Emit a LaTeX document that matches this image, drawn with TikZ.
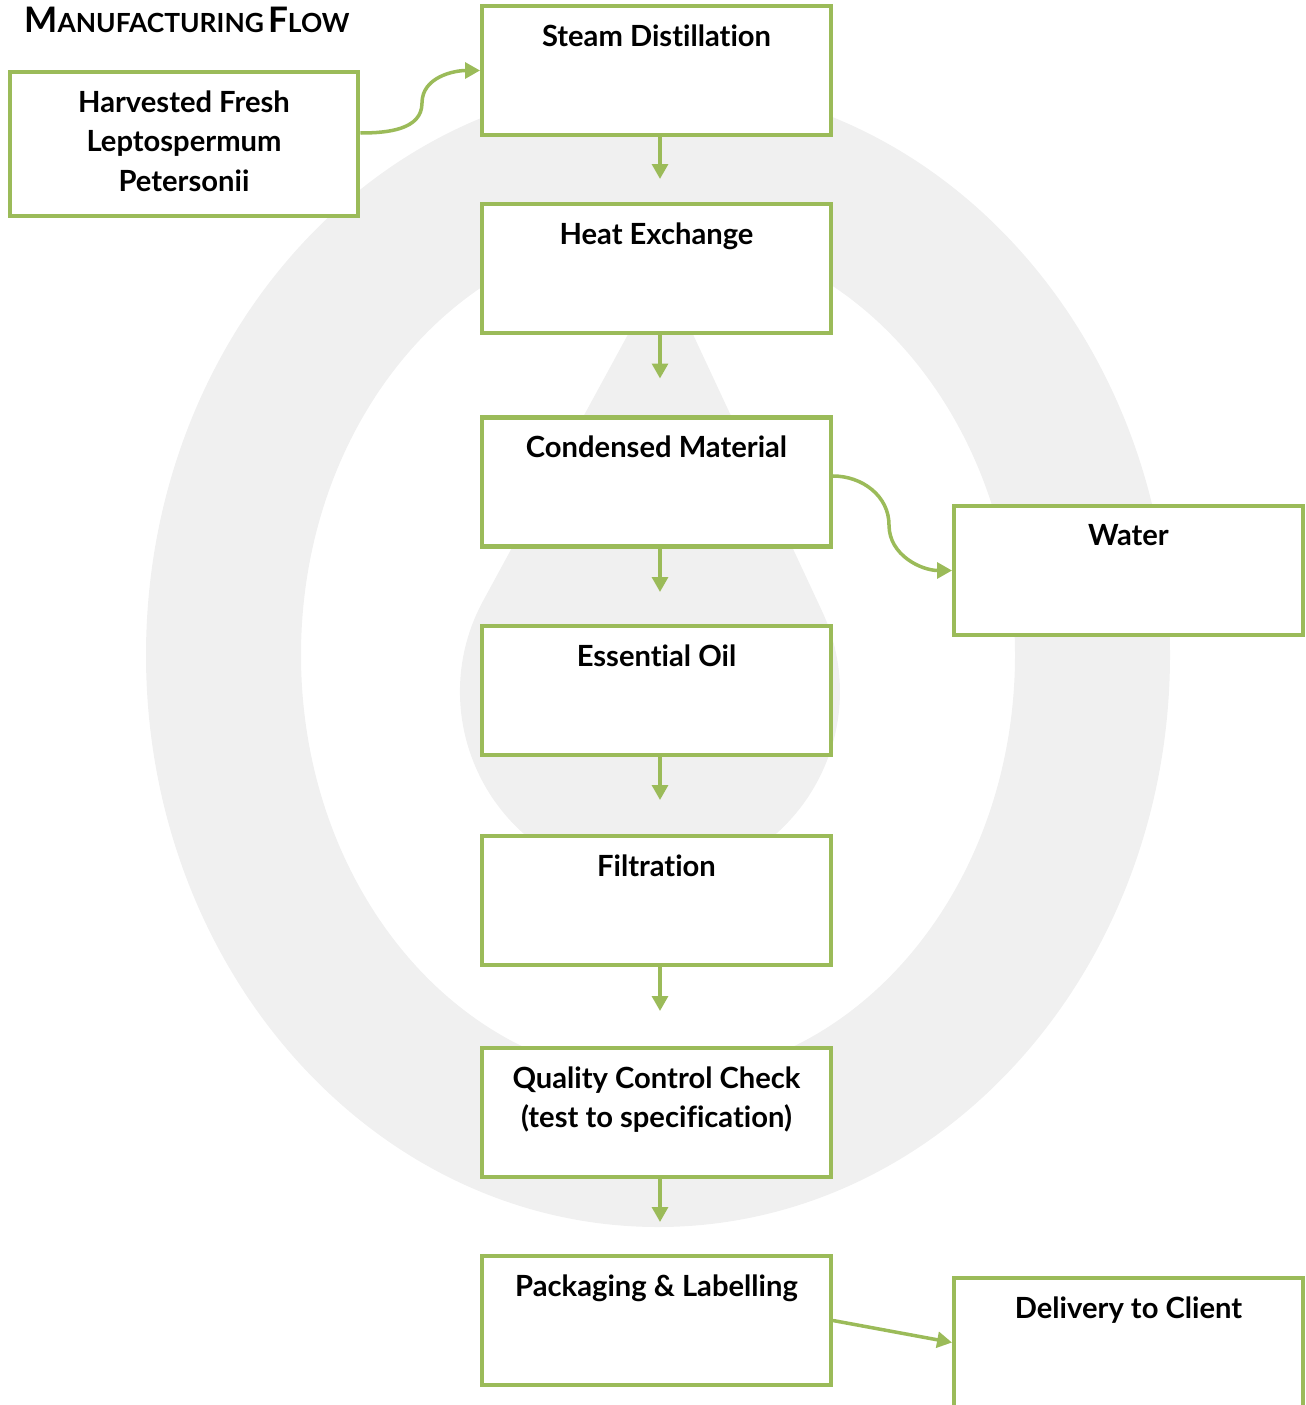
\documentclass[tikz,border=0pt]{standalone}
\usepackage{fontspec}
\setmainfont{Lato}[Ligatures=CommonOff]
\usetikzlibrary{positioning, arrows.meta}

\definecolor{boxgreen}{HTML}{9BBB59}
\definecolor{ringgray}{HTML}{F0F0F0}

\begin{document}
\begin{tikzpicture}[x=0.02cm, y=-0.02cm,
  stepbox/.style={draw=boxgreen, line width=2.3pt, fill=white, minimum width=6.98cm, minimum height=2.58cm, inner sep=0pt},
  boxtext/.style={anchor=north, inner sep=0pt, yshift=-0.4cm, align=center, font=\fontsize{16.6}{22.7}\selectfont\bfseries},
  flow/.style={draw=boxgreen, line width=2pt, -{Triangle[length=8.5pt, width=9pt]}}]
  \useasboundingbox (0,0) rectangle (1305,1405);

  % background ring and drop
  \fill[ringgray, even odd rule] (658,655) ellipse [x radius=512, y radius=572]
                                 (658,655) ellipse [x radius=357, y radius=423];
  \fill[ringgray] (663,270) -- (483,601) arc [start angle=208.5, end angle=-24.9, radius=190] -- cycle;

  \node[anchor=base west, inner sep=0pt, font=\bfseries] (title) at (24,33)
    {{\fontsize{20}{20}\selectfont M}{\fontsize{15}{15}\selectfont ANUFACTURING} {\fontsize{20}{20}\selectfont F}{\fontsize{15}{15}\selectfont LOW}};

  \node[stepbox, minimum height=2.88cm, label={[boxtext]north:{Harvested Fresh\\Leptospermum\\Petersonii}}] (harv) at (184,144) {};
  \node[stepbox, label={[boxtext]north:Steam Distillation}] (steam) at (656.5,70.5) {};
  \node[stepbox, label={[boxtext]north:Heat Exchange}] (heat) at (656.5,268.5) {};
  \node[stepbox, label={[boxtext]north:Condensed Material}] (cond) at (656.5,482) {};
  \node[stepbox, label={[boxtext]north:Essential Oil}] (oil) at (656.5,690.5) {};
  \node[stepbox, label={[boxtext]north:Filtration}] (filt) at (656.5,900.5) {};
  \node[stepbox, label={[boxtext]north:{Quality Control Check\\(test to specification)}}] (qc) at (656.5,1112.5) {};
  \node[stepbox, label={[boxtext]north:Packaging \& Labelling}] (pack) at (656.5,1320.5) {};
  \node[stepbox, label={[boxtext]north:Water}] (water) at (1128.5,570.5) {};
  \node[stepbox, label={[boxtext]north:Delivery to Client}] (deliv) at (1128.5,1342.5) {};

  \coordinate (bend1) at (422,103);
  \coordinate (bend2) at (889,525);

  \draw[flow] ([yshift=0.22cm]harv.east) to[out=0, in=-90] (bend1) to[out=90, in=180] (steam.west);
  \draw[flow] ([yshift=0.12cm]cond.east) to[out=0, in=90] (bend2) to[out=-90, in=180] (water.west);
  \draw[flow] (pack.east) -- (deliv.west);

  \draw[flow, shorten >=0.46cm] ([xshift=0.07cm]steam.south) -- ([xshift=0.07cm]heat.north);
  \draw[flow, shorten >=0.74cm] ([xshift=0.07cm]heat.south) -- ([xshift=0.07cm]cond.north);
  \draw[flow, shorten >=0.64cm] ([xshift=0.07cm]cond.south) -- ([xshift=0.07cm]oil.north);
  \draw[flow, shorten >=0.68cm] ([xshift=0.07cm]oil.south) -- ([xshift=0.07cm]filt.north);
  \draw[flow, shorten >=0.70cm] ([xshift=0.07cm]filt.south) -- ([xshift=0.07cm]qc.north);
  \draw[flow, shorten >=0.64cm] ([xshift=0.07cm]qc.south) -- ([xshift=0.07cm]pack.north);
\end{tikzpicture}
\end{document}
